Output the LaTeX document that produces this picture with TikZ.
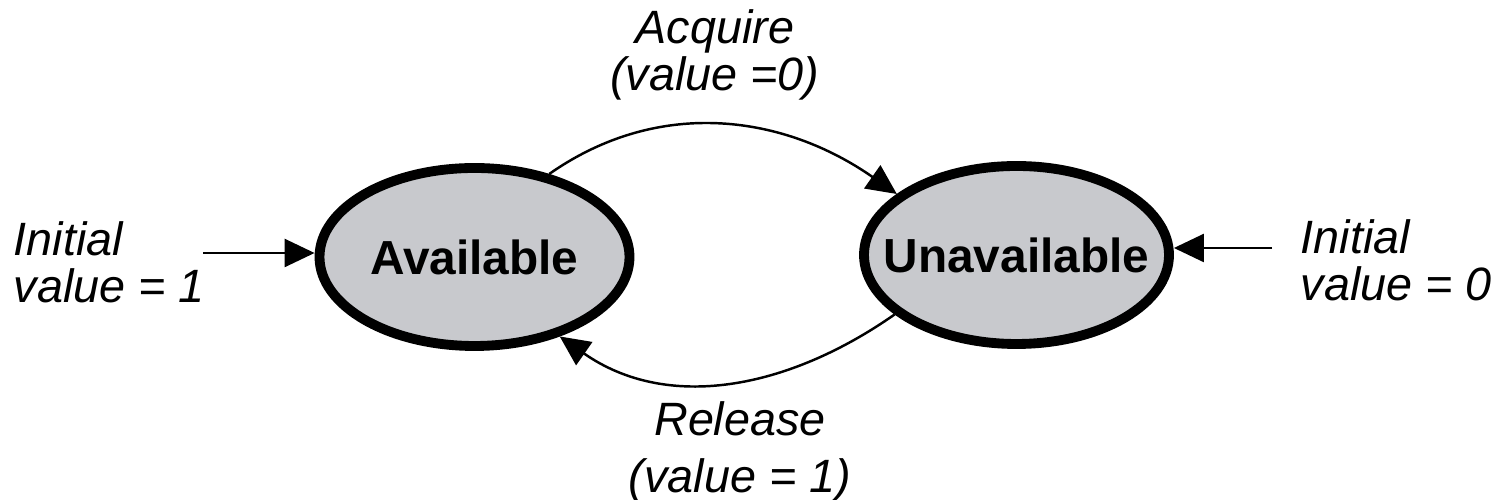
\documentclass[tikz,border=0pt]{standalone}
\usepackage{fontspec}
\setmainfont{Liberation Sans}
\usetikzlibrary{positioning,arrows.meta,shapes.geometric}

\definecolor{grigiostato}{RGB}{200,201,205}

\begin{document}
\begin{tikzpicture}[
  stato/.style={ellipse, draw, line width=2.8pt, fill=grigiostato, inner sep=0pt,
    inner xsep=-0.5cm, minimum height=1.78cm, font=\fontsize{13.6}{16}\selectfont\bfseries},
  etichetta/.style={inner sep=0pt, font=\fontsize{13.3}{13.3}\selectfont\itshape},
  freccia/.style={line width=0.7pt, -{Triangle[length=0.3cm,width=0.28cm]}}
]
\useasboundingbox (0,0) rectangle (14.98,5);

% Stati
\node[stato, minimum width=3.10cm] (disp) at (4.745, 2.43) {Available};
\node[stato, minimum width=3.05cm] (nondisp) at (10.165, 2.45) {Unavailable};

% Transizioni tra gli stati
\draw[freccia] (disp.48) to[out=35, in=145] (nondisp.153);
\draw[freccia] (nondisp.206) to[out=215, in=-35] (disp.317);
\node[etichetta, align=center] (acq) at (7.15, 4.45) {Acquire\\(value =0)};
\node[etichetta, align=center, font=\fontsize{13.3}{16}\selectfont\itshape] (rel) at (7.40, 0.48) {Release\\(value = 1)};

% Valori iniziali
\node[etichetta, align=left, anchor=west] (iniz1) at (0.13, 2.38) {Initial\\value = 1};
\node[etichetta, align=left, anchor=west] (iniz0) at (13.0, 2.40) {Initial\\value = 0};
\coordinate (inizio1) at (2.03, 2.47);
\coordinate (inizio0) at (12.72, 2.52);
\draw[freccia] (inizio1) -- (inizio1 -| disp.west);
\draw[freccia] (inizio0) -- (inizio0 -| nondisp.east);
\end{tikzpicture}
\end{document}
